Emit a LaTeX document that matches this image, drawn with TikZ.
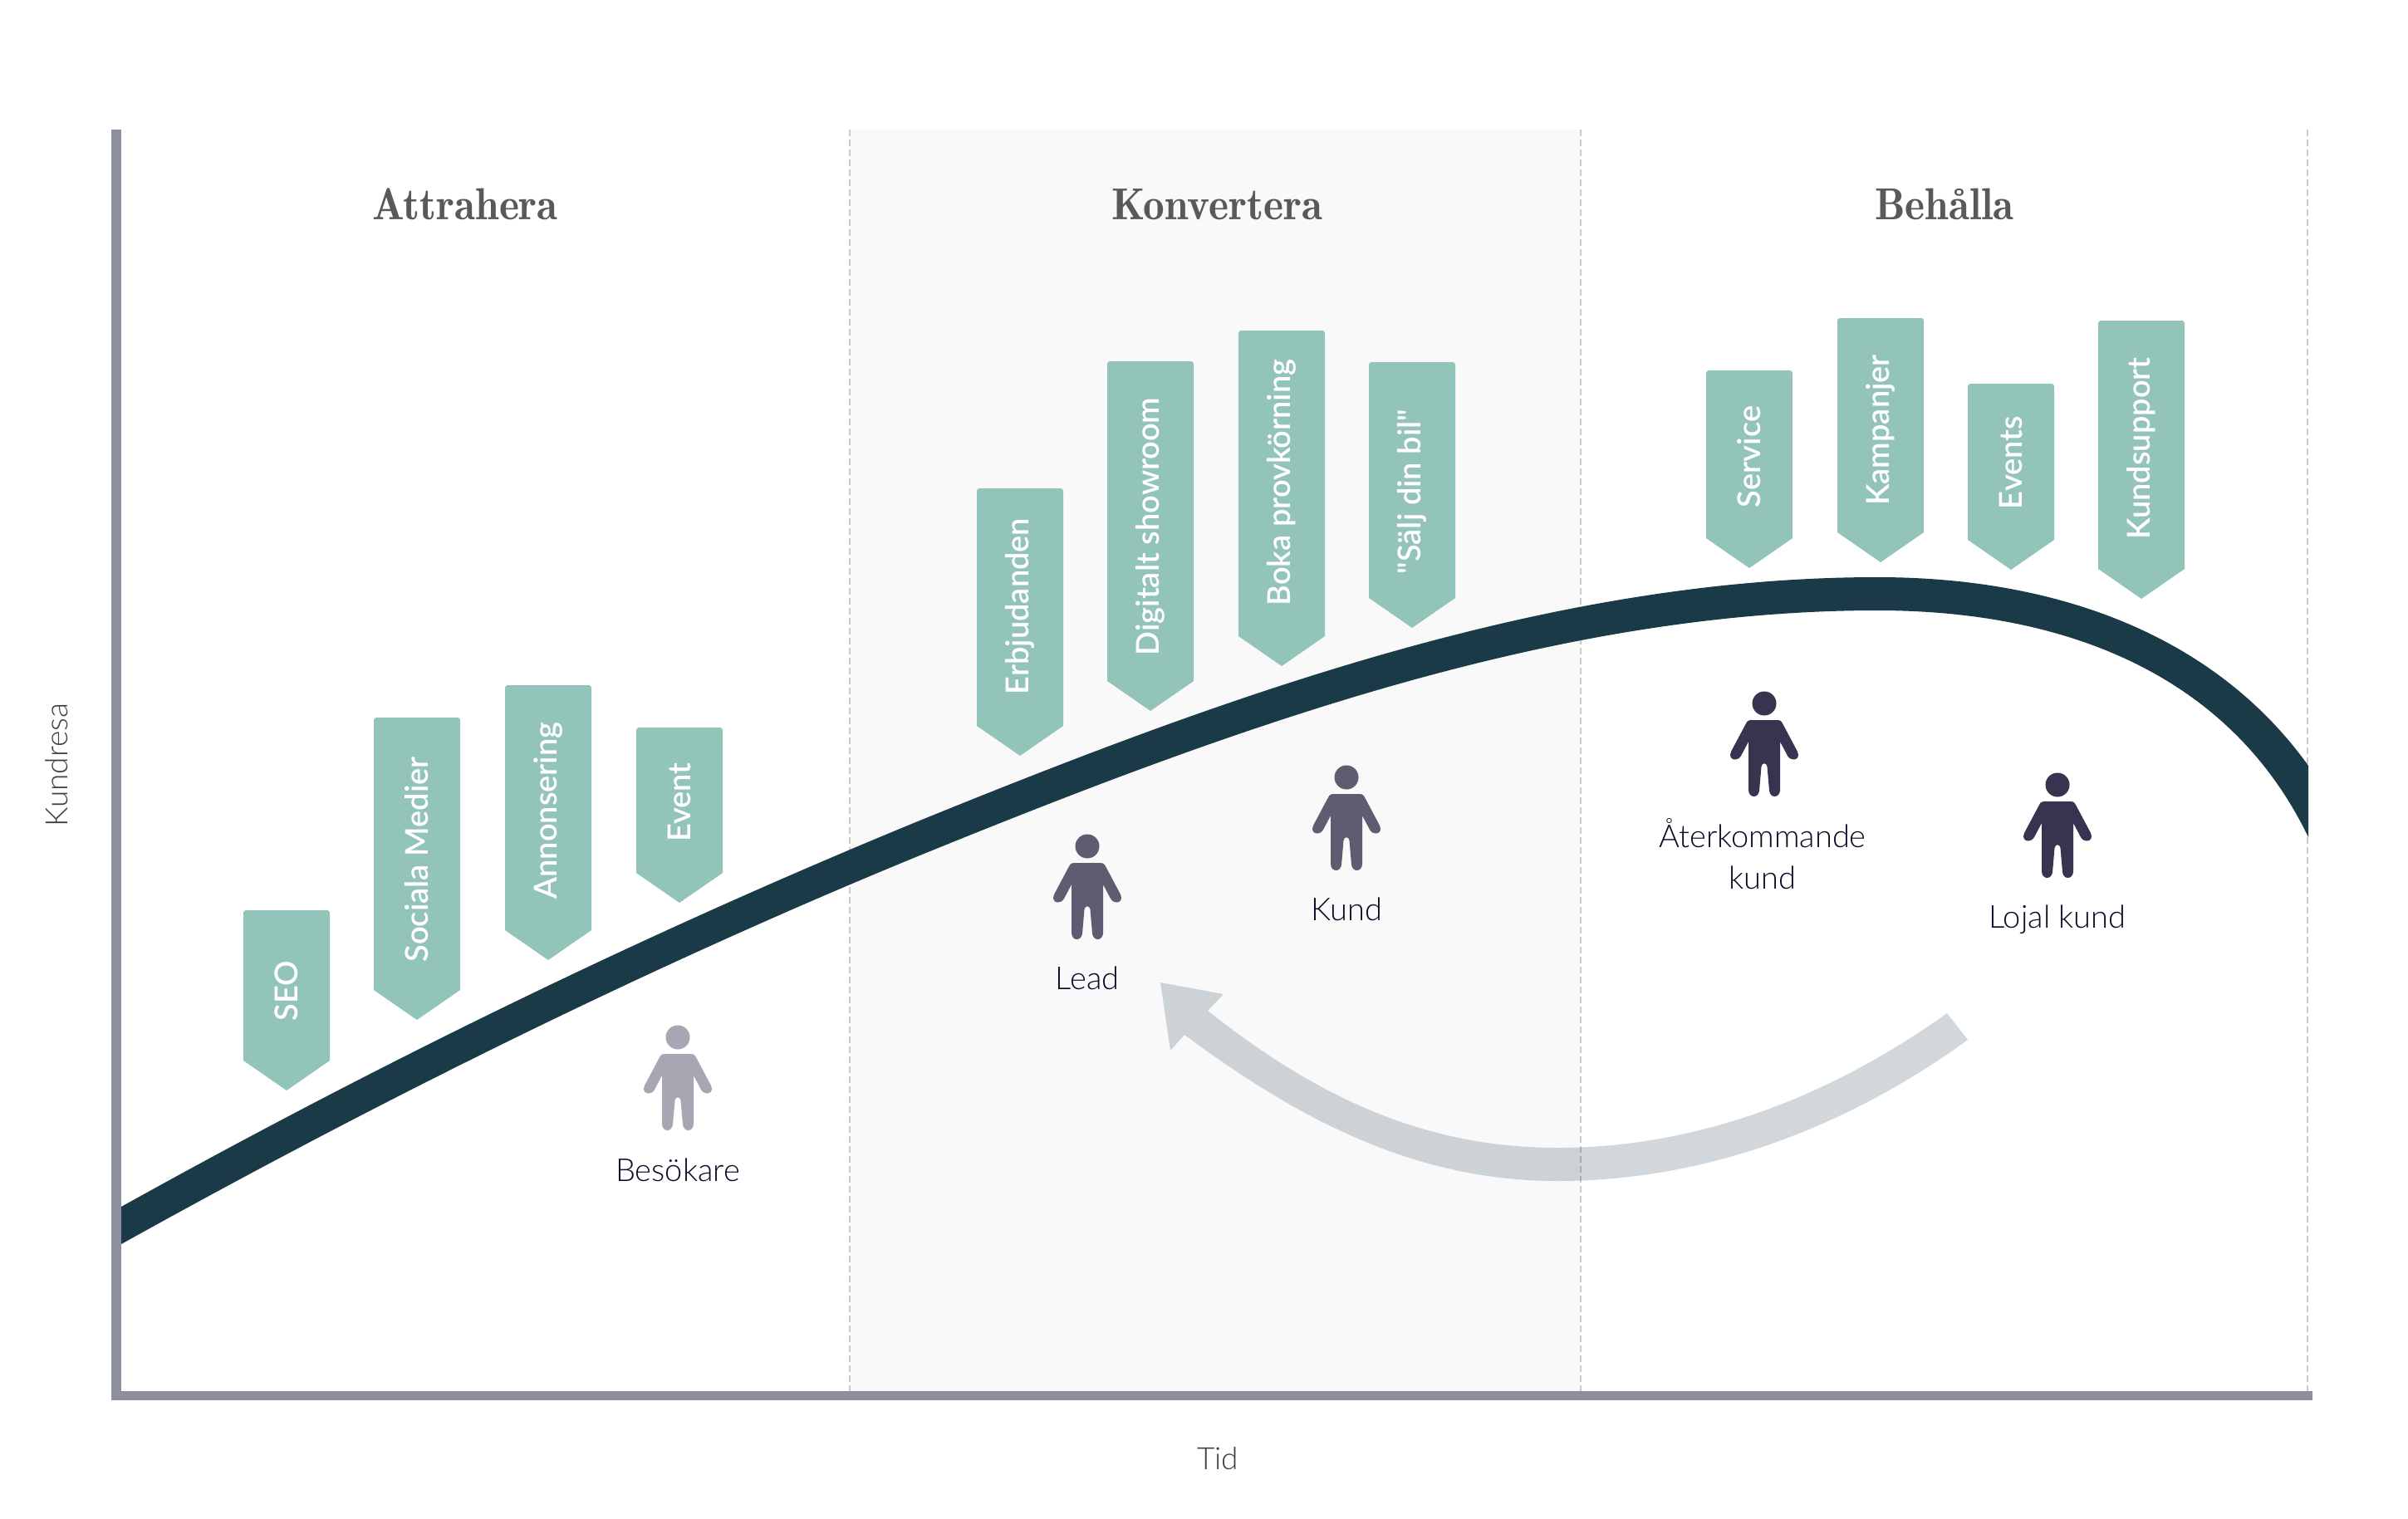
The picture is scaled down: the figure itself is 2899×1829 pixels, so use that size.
\documentclass[tikz,border=0pt]{standalone}
\usepackage{graphicx}
\usepackage{fontspec}
\newfontfamily\labelfont{Lato}[UprightFont=* Light]
\newfontfamily\axisfont{Lato}[UprightFont=* Light]
\newfontfamily\tagfont{Lato}[UprightFont=* Semibold]
\newfontfamily\headfont{Latin Modern Roman Demi}
\definecolor{axisgrey}{HTML}{8C8F9E}
\definecolor{panelgrey}{HTML}{F9F9F9}
\definecolor{dashgrey}{HTML}{C9C9C9}
\definecolor{curvedark}{HTML}{1A3A47}
\definecolor{tagteal}{HTML}{92C4B9}
\definecolor{headgrey}{HTML}{595959}
\definecolor{axistext}{HTML}{3F3F3F}
\definecolor{labelnavy}{HTML}{060A24}
\definecolor{personlight}{HTML}{A9A6B4}
\definecolor{personmid}{HTML}{5F5C72}
\definecolor{persondark}{HTML}{37344F}
\newcommand{\headtext}[1]{\scalebox{0.95}[1]{#1}}
\tikzset{
  heading/.style={font=\headfont\fontsize{27}{30}\selectfont,text=headgrey,inner sep=0pt},
  axislabel/.style={font=\axisfont\fontsize{18.5}{22}\selectfont,text=axistext,inner sep=0pt},
  personlabel/.style={font=\labelfont\fontsize{19}{25}\selectfont,text=labelnavy,inner sep=0pt,align=center},
  taglabel/.style={font=\tagfont\fontsize{19}{22}\selectfont,text=white,rotate=90,inner sep=0pt},
  divider/.style={draw=dashgrey,line width=1pt,dash pattern=on 4pt off 2pt},
  pics/person/.style={code={
    \fill[#1] (0,0) circle (14.5);
    \fill[#1] (0,20) -- (16,20) .. controls (20,20) and (22,23) .. (23,26) -- (40,58)
      .. controls (43,64) and (39,68) .. (35,67.5) .. controls (32,67.5) and (30,66) .. (28,63)
      -- (19,46) -- (19,104) .. controls (19,109) and (16,112) .. (12.5,112)
      .. controls (9,112) and (6.5,109) .. (6,105) -- (3.5,76) .. controls (3,71) and (-3,71) .. (-3.5,76)
      -- (-6,105) .. controls (-6.5,109) and (-9,112) .. (-12.5,112)
      .. controls (-16,112) and (-19,109) .. (-19,104) -- (-19,46) -- (-28,63)
      .. controls (-30,66) and (-32,67.5) .. (-35,67.5) .. controls (-39,68) and (-43,64) .. (-40,58)
      -- (-23,26) .. controls (-22,23) and (-20,20) .. (-16,20) -- cycle;
  }}
}
% #1 name, #2 left x, #3 top y, #4 tip y, #5 text centre y, #6 text
\newcommand{\tagshape}[6]{%
  \pgfmathsetmacro{\tl}{#2}\pgfmathsetmacro{\tr}{#2+104}\pgfmathsetmacro{\tm}{#2+52}%
  \pgfmathsetmacro{\ts}{#4-36}%
  \fill[tagteal] (\tl,\ts) -- (\tl,#3+5) .. controls (\tl,#3+1) and (\tl+1,#3) .. (\tl+5,#3)
    -- (\tr-5,#3) .. controls (\tr-1,#3) and (\tr,#3+1) .. (\tr,#3+5) -- (\tr,\ts) -- (\tm,#4) -- cycle;
  \node[taglabel] (#1) at (\tm,#5) {#6};%
}
\begin{document}
\begin{tikzpicture}[x=0.5pt,y=-0.5pt]
\useasboundingbox (0,0) rectangle (2899,1829);
\fill[white] (0,0) rectangle (2899,1829);
\fill[panelgrey] (1023,156) rectangle (1903,1680);
\draw[divider] (1023,156) -- (1023,1680);
\draw[divider] (1903,156) -- (1903,1680);
\draw[divider] (2778,156) -- (2778,1680);
\fill[curvedark]
  (146,1453) .. controls (464,1276) and (782,1122) .. (1100,991)
  .. controls (1485,834) and (1870,695) .. (2260,695)
  .. controls (2485,695) and (2670,770) .. (2779,922)
  -- (2779,1008) .. controls (2687,817) and (2494,735) .. (2260,735)
  .. controls (1870,735) and (1485,876) .. (1100,1033)
  .. controls (782,1164) and (464,1321) .. (146,1498) -- cycle;
\fill[axisgrey] (134,156) rectangle (146,1686);
\fill[axisgrey] (134,1675) rectangle (2784,1686);
\fill[curvedark,opacity=0.2] (2369,1252) .. controls (2220,1360) and (2050,1422) .. (1875,1422)
  .. controls (1700,1422) and (1560,1345) .. (1426,1246) -- (1409,1265) -- (1397,1183)
  -- (1473,1197) -- (1454,1217) .. controls (1590,1325) and (1720,1382) .. (1875,1382)
  .. controls (2030,1382) and (2190,1330) .. (2344,1220) -- cycle;
\node[heading] (attrahera) at (560,246) {\headtext{Attrahera}};
\node[heading] (konvertera) at (1465,246) {\headtext{Konvertera}};
\node[heading] (behalla) at (2341,246) {\headtext{Behålla}};
\node[axislabel,rotate=90] (kundresa) at (68,921) {Kundresa};
\node[axislabel] (tid) at (1466,1756) {Tid};
\tagshape{seo}{293}{1096}{1313}{1193}{SEO}
\tagshape{sociala}{450}{864}{1228}{1035}{Sociala Medier}
\tagshape{annonsering}{608}{825}{1156}{976}{Annonsering}
\tagshape{event}{766}{876}{1087}{966}{Event}
\tagshape{erbjudanden}{1176}{588}{910}{730}{Erbjudanden}
\tagshape{digitalt}{1333}{435}{856}{634}{Digitalt showroom}
\tagshape{boka}{1491}{398}{802}{581}{Boka provkörning}
\tagshape{salj}{1648}{436}{756}{592}{"Sälj din bil"}
\tagshape{service}{2054}{446}{684}{550}{Service}
\tagshape{kampanjer}{2212}{383}{677}{518}{Kampanjer}
\tagshape{events}{2369}{462}{686}{557}{Events}
\tagshape{kundsupport}{2526}{386}{721}{540}{Kundsupport}
\pic at (816,1249) {person=personlight};
\pic at (1309,1019) {person=personmid};
\pic at (1621,936) {person=personmid};
\pic at (2124,847) {person=persondark};
\pic at (2477,945) {person=persondark};
\node[personlabel] (besokare) at (816,1409) {Besökare};
\node[personlabel] (lead) at (1309,1178) {Lead};
\node[personlabel] (kund) at (1621,1095) {Kund};
\node[personlabel] (aterkommande) at (2122,1028) {Återkommande\\kund};
\node[personlabel] (lojal) at (2477,1107) {Lojal kund};
\end{tikzpicture}
\end{document}
